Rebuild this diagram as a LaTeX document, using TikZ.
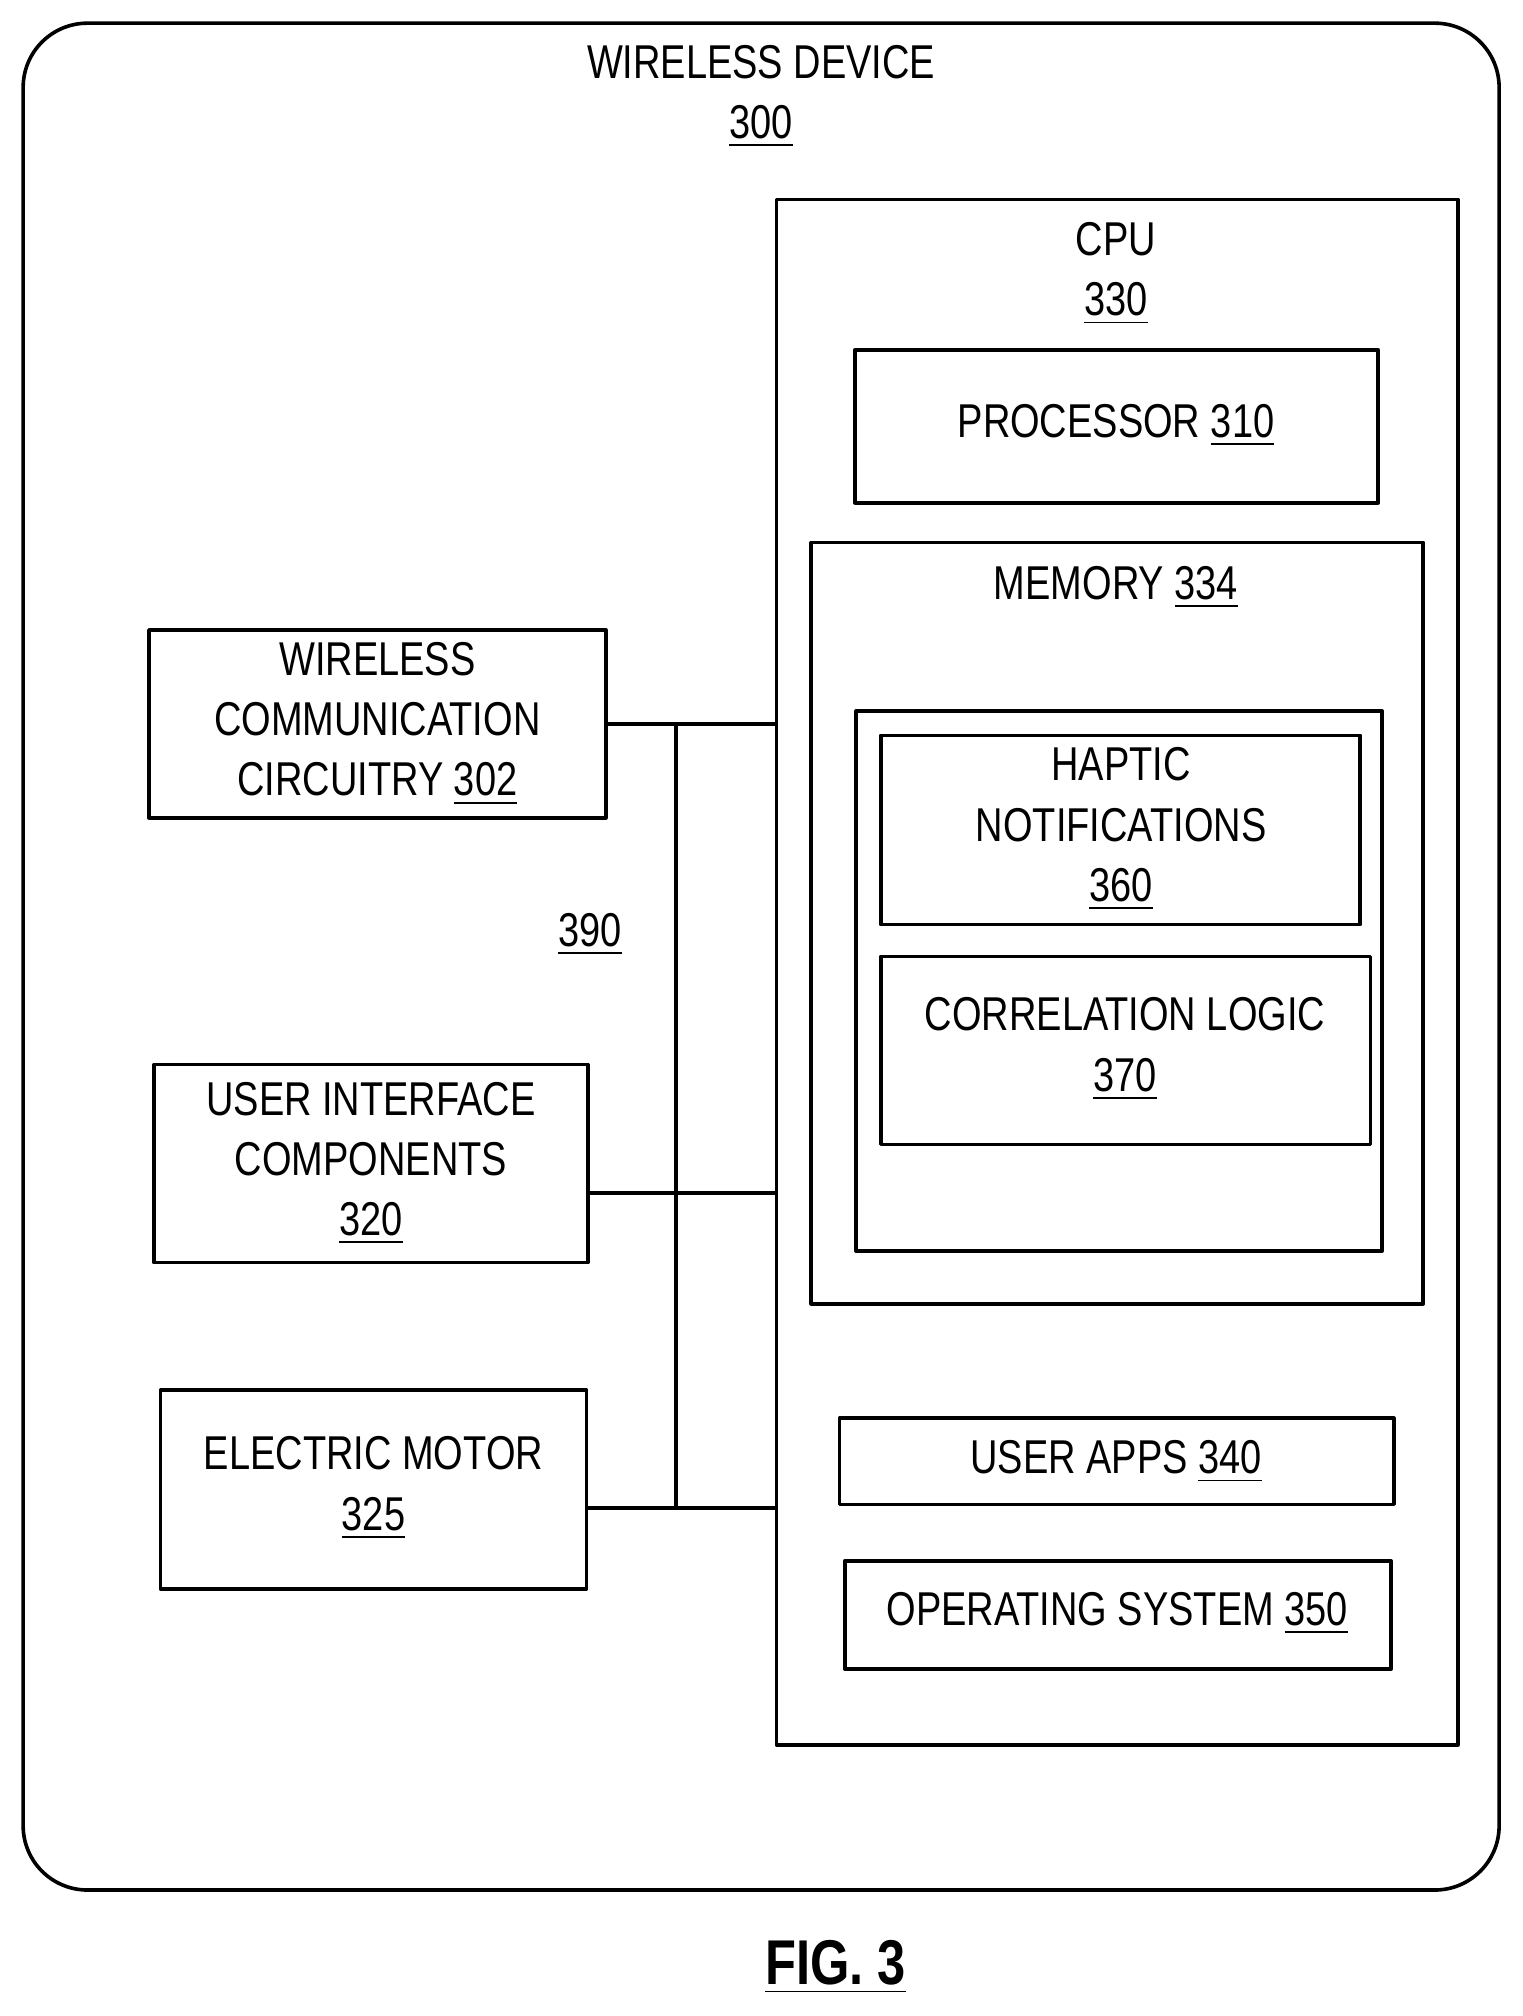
\documentclass[tikz,border=0pt]{standalone}
\usepackage{fontspec}
\setmainfont{Liberation Sans}[FakeStretch=0.8]
\usetikzlibrary{positioning,calc}
\newcommand{\ulnum}[1]{\underline{#1}}
\tikzset{
  box/.style={draw, line width=0.8pt, rectangle, inner sep=0pt},
  lbl/.style={align=center, font=\fontsize{10.5}{13.3}\selectfont, inner sep=0pt}
}
\begin{document}
\begin{tikzpicture}[x=0.01cm, y=-0.01cm, line join=round]
\useasboundingbox (0,0) rectangle (1184,1568);
% outer device
\draw[line width=0.8pt, rounded corners=0.5cm] (18,18) rectangle (1166,1470);
\node[lbl] (dev) at (592,75) {WIRELESS DEVICE\\\ulnum{300}};
% cpu side
\draw[box] (604,155) rectangle (1134,1357);
\coordinate (cpuw) at (604,155);
\node[lbl] (cpu) at (868,213) {CPU\\\ulnum{330}};
\draw[box] (665,272) rectangle (1072,391);
\node[lbl] (proc) at (868,331) {PROCESSOR \ulnum{310}};
\draw[box] (631,422) rectangle (1107,1014);
\node[lbl] (mem) at (868,457) {MEMORY \ulnum{334}};
\draw[box] (666,553) rectangle (1075,973);
\draw[box] (685,572) rectangle (1058,719);
\node[lbl] (hap) at (872,645) {HAPTIC\\NOTIFICATIONS\\\ulnum{360}};
\draw[box] (685,744) rectangle (1066,890);
\node[lbl] (corr) at (875,816) {CORRELATION LOGIC\\\ulnum{370}};
\draw[box] (653,1103) rectangle (1084,1170);
\node[lbl] (apps) at (868,1137) {USER APPS \ulnum{340}};
\draw[box] (657,1214) rectangle (1082,1298);
\node[lbl] (os) at (869,1255) {OPERATING SYSTEM \ulnum{350}};
% left components
\node[box, minimum width=3.55cm, minimum height=1.46cm] (wcc) at (293.5,563) {};
\node[lbl] at (wcc) {WIRELESS\\COMMUNICATION\\CIRCUITRY \ulnum{302}};
\node[box, minimum width=3.37cm, minimum height=1.54cm] (ui) at (288.5,905) {};
\node[lbl] at (ui) {USER INTERFACE\\COMPONENTS\\\ulnum{320}};
\node[box, minimum width=3.31cm, minimum height=1.55cm] (mot) at (290.5,1158.5) {};
\node[lbl] at ($(mot)+(0,-1)$) {ELECTRIC MOTOR\\\ulnum{325}};
% bus 390
\coordinate (busT) at (526,563);
\coordinate (busB) at (526,1173);
\draw[line width=0.8pt] (busT) -- (busB);
\draw[line width=0.8pt] (wcc.east) -- (wcc.east -| cpuw);
\draw[line width=0.8pt] (ui.east |- 0,928) -- (cpuw |- 0,928);
\draw[line width=0.8pt] (mot.east |- busB) -- (cpuw |- busB);
\node[lbl] (bus) at (459,727) {\ulnum{390}};
\node[lbl, font=\bfseries\fontsize{14}{16}\selectfont] (fig) at (650,1530) {\ulnum{FIG. 3}};
\end{tikzpicture}
\end{document}
